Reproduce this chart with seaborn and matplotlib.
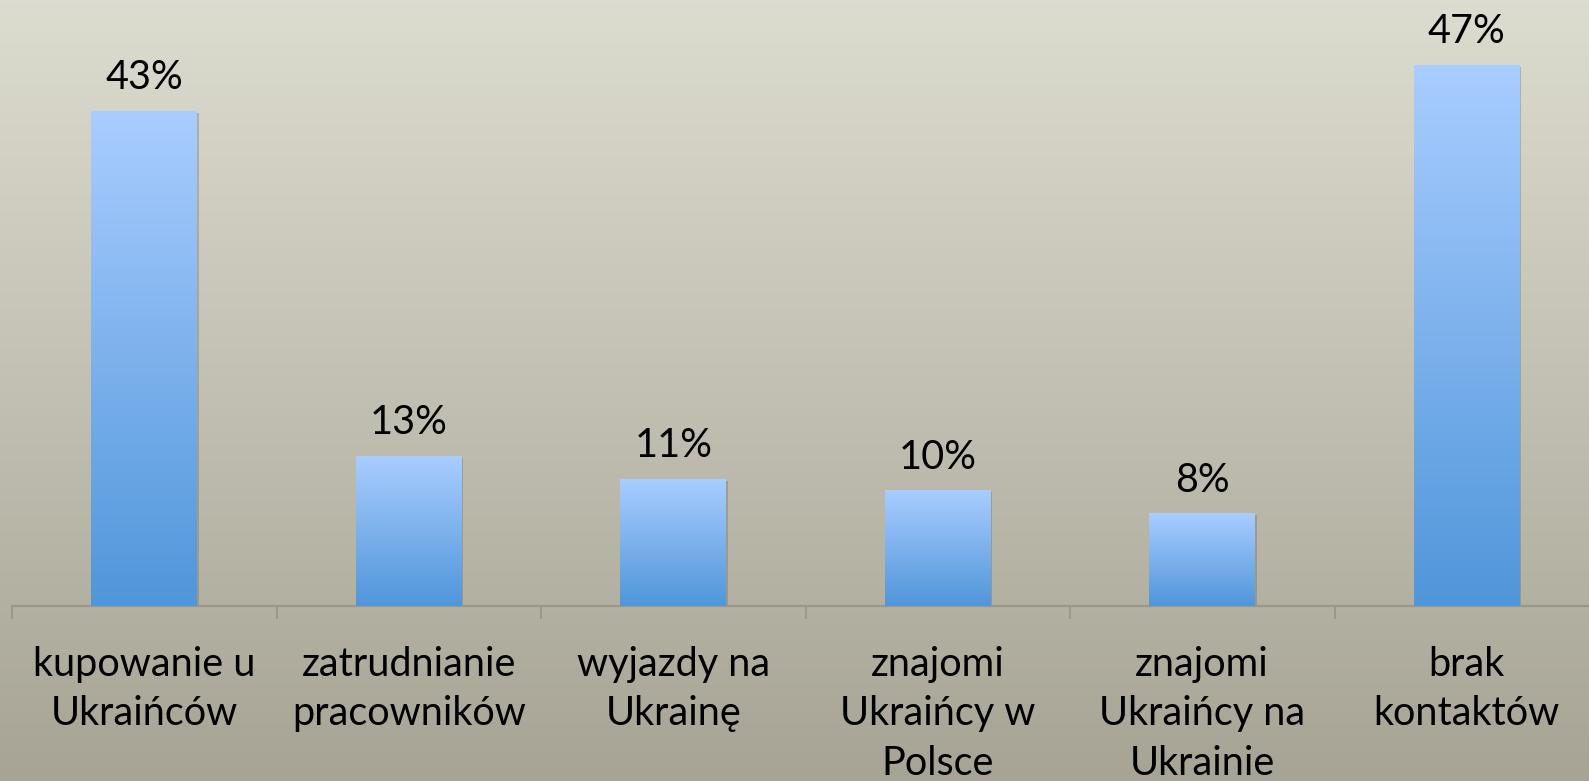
import numpy as np
import pandas as pd
import matplotlib
matplotlib.use("Agg")
import matplotlib.pyplot as plt
import matplotlib.transforms as mtransforms
from matplotlib.patches import Rectangle
from matplotlib.colors import LinearSegmentedColormap
import seaborn as sns

# ---- data ----
categories = [
    "kupowanie u\nUkraińców",
    "zatrudnianie\npracowników",
    "wyjazdy na\nUkrainę",
    "znajomi\nUkraińcy w\nPolsce",
    "znajomi\nUkraińcy na\nUkrainie",
    "brak\nkontaktów",
]
values = [43, 13, 11, 10, 8, 47]
value_labels = ["43%", "13%", "11%", "10%", "8%", "47%"]

df = pd.DataFrame({"cat": categories, "val": values})

sns.set_theme(style="white")
plt.rcParams["font.family"] = ["Lato", "DejaVu Sans"]

W, H = 1589, 781
fig = plt.figure(figsize=(W / 100, H / 100), dpi=100)

# background gradient
bg = fig.add_axes([0, 0, 1, 1], zorder=0)
bg_cmap = LinearSegmentedColormap.from_list("bg", ["#A7A495", "#DDDCD0"])
grad = np.linspace(0, 1, 256).reshape(-1, 1)
bg.imshow(grad, aspect="auto", cmap=bg_cmap, origin="lower", extent=[0, 1, 0, 1])
bg.set_axis_off()

base_px = 606
px_per_unit = 11.51
ax = fig.add_axes([12 / W, (H - base_px) / H, 1587 / W, base_px / H], zorder=1)
ax.patch.set_alpha(0)

sns.barplot(data=df, x="cat", y="val", ax=ax, width=0.4, color="#5096DA",
            edgecolor="none", linewidth=0, zorder=3)

ax.set_xlim(-0.5, len(categories) - 0.5)
ax.set_ylim(0, base_px / px_per_unit)

bar_cmap = LinearSegmentedColormap.from_list("bar", ["#5096DA", "#A9CDFF"])
shadow_tr = mtransforms.offset_copy(ax.transData, fig=fig, x=1.5, y=-1.5, units="dots")
for p in ax.patches:
    x0, y0 = p.get_x(), p.get_y()
    w, h = p.get_width(), p.get_height()
    sh = Rectangle((x0, y0), w, h, transform=shadow_tr, facecolor="#6f6c60",
                   alpha=0.35, edgecolor="none", zorder=2)
    ax.add_patch(sh)
    p.set_alpha(0)
    ax.imshow(grad, aspect="auto", cmap=bar_cmap, origin="lower",
              extent=[x0, x0 + w, y0, y0 + h], zorder=3)

ax.set_xlim(-0.5, len(categories) - 0.5)
ax.set_ylim(0, base_px / px_per_unit)

ax.bar_label(ax.containers[0], labels=value_labels, padding=11,
             fontsize=28.5, color="black")

# axes styling
for s in ["top", "right", "left"]:
    ax.spines[s].set_visible(False)
ax.spines["bottom"].set_color("#9a978d")
ax.spines["bottom"].set_linewidth(1.6)
ax.set_yticks([])
ax.set_ylabel("")
ax.set_xlabel("")
ax.set_xticks(range(len(categories)))
ax.set_xticklabels(categories, fontsize=28.5, linespacing=1.43, color="black")
ax.tick_params(axis="x", which="major", length=0, pad=28.5)
ax.set_xticks(np.arange(-0.5, len(categories)), minor=True)
ax.tick_params(axis="x", which="minor", length=9.5, width=1.4, color="#9a978d",
               direction="out", bottom=True)

fig.savefig("out.png", dpi=100)
